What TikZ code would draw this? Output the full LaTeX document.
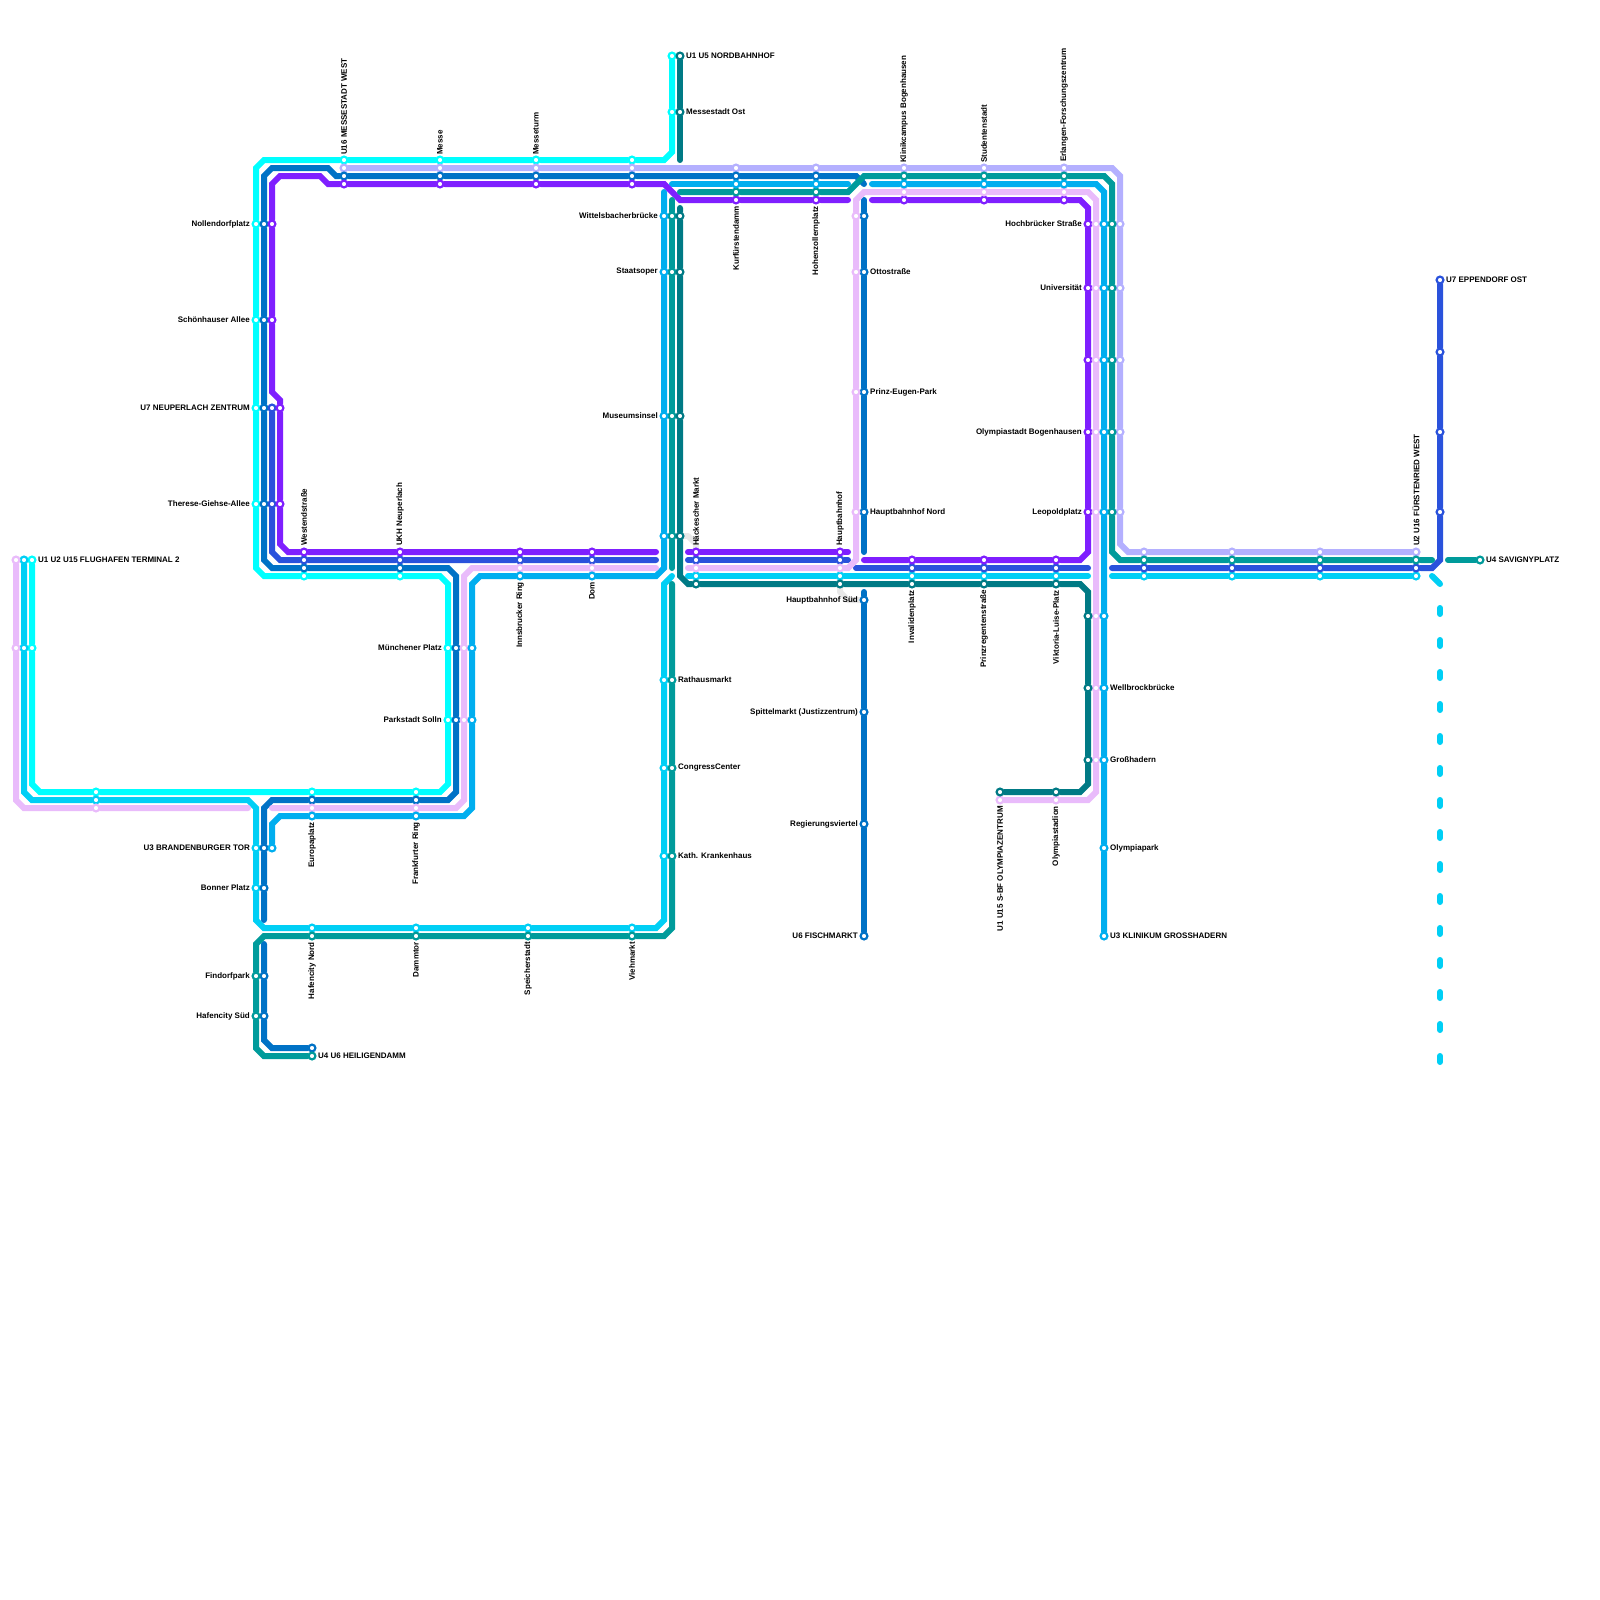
\documentclass[tikz,border=0pt]{standalone}
\usepackage{fontspec}
\setmainfont{Liberation Sans}
\usepackage{xcolor}
\usetikzlibrary{backgrounds}
\definecolor{uaqua}{HTML}{00FFFF}
\definecolor{usky}{HTML}{00CFF5}
\definecolor{ulav}{HTML}{B4B0FF}
\definecolor{ublue}{HTML}{0072C6}
\definecolor{uroyal}{HTML}{2A52DC}
\definecolor{uviolet}{HTML}{7F1FFF}
\definecolor{ulilac}{HTML}{E9BBFB}
\definecolor{uteal}{HTML}{009B9B}
\definecolor{udark}{HTML}{007A85}
\definecolor{uazure}{HTML}{00AEEF}
\tikzset{
  stop/.style={circle, fill=white, draw=#1, line width=2.2pt, minimum size=6.8pt, inner sep=0pt},
  track/.style={line width=6pt, line cap=round, miter limit=4, draw=#1},
  walk/.style={line width=6pt, line cap=round, line join=round, draw=black!9},
  lbl/.style={font=\fontsize{8}{9}\selectfont\bfseries, inner sep=0pt, text=black},
  lblleft/.style={lbl, anchor=east},
  lblright/.style={lbl, anchor=west},
  lblup/.style={lbl, rotate=90, anchor=west},
  lbldown/.style={lbl, rotate=90, anchor=east},
}
\begin{document}
\begin{tikzpicture}[x=1pt, y=-1pt]
\useasboundingbox (0,0) rectangle (1600,1600);
% aqua
\node[stop=uaqua] (a1) at (32,560) {};
\node[stop=uaqua] (a2) at (32,648) {};
\node[stop=uaqua] (a3) at (96,792) {};
\node[stop=uaqua] (a4) at (312,792) {};
\node[stop=uaqua] (a5) at (416,792) {};
\node[stop=uaqua] (a6) at (448,720) {};
\node[stop=uaqua] (a7) at (448,648) {};
\node[stop=uaqua] (a8) at (400,576) {};
\node[stop=uaqua] (a9) at (304,576) {};
\node[stop=uaqua] (a10) at (256,504) {};
\node[stop=uaqua] (a11) at (256,408) {};
\node[stop=uaqua] (a12) at (256,320) {};
\node[stop=uaqua] (a13) at (256,224) {};
\node[stop=uaqua] (a14) at (344,160) {};
\node[stop=uaqua] (a15) at (440,160) {};
\node[stop=uaqua] (a16) at (536,160) {};
\node[stop=uaqua] (a17) at (632,160) {};
\node[stop=uaqua] (a18) at (672,112) {};
\node[stop=uaqua] (a19) at (672,56) {};
\coordinate (aA) at (32,784); \coordinate (aB) at (40,792); \coordinate (aC) at (440,792); \coordinate (aD) at (448,784);
\coordinate (aE) at (448,584); \coordinate (aF) at (440,576); \coordinate (aG) at (264,576); \coordinate (aH) at (256,568);
\coordinate (aI) at (256,168); \coordinate (aJ) at (264,160); \coordinate (aK) at (664,160); \coordinate (aL) at (672,152);
% sky
\node[stop=usky] (s1) at (24,560) {};
\node[stop=usky] (s2) at (24,648) {};
\node[stop=usky] (s3) at (96,800) {};
\node[stop=usky] (s4) at (256,848) {};
\node[stop=usky] (s5) at (256,888) {};
\node[stop=usky] (s6) at (312,928) {};
\node[stop=usky] (s7) at (416,928) {};
\node[stop=usky] (s8) at (528,928) {};
\node[stop=usky] (s9) at (632,928) {};
\node[stop=usky] (s10) at (664,856) {};
\node[stop=usky] (s11) at (664,768) {};
\node[stop=usky] (s12) at (664,680) {};
\node[stop=usky] (s13) at (696,576) {};
\node[stop=usky] (s14) at (840,576) {};
\node[stop=usky] (s15) at (912,576) {};
\node[stop=usky] (s16) at (984,576) {};
\node[stop=usky] (s17) at (1056,576) {};
\node[stop=usky] (s18) at (1144,576) {};
\node[stop=usky] (s19) at (1232,576) {};
\node[stop=usky] (s20) at (1320,576) {};
\node[stop=usky] (s21) at (1416,576) {};
\coordinate (sA) at (24,792); \coordinate (sB) at (32,800); \coordinate (sC) at (248,800); \coordinate (sD) at (256,808);
\coordinate (sE) at (256,920); \coordinate (sF) at (264,928); \coordinate (sG) at (656,928); \coordinate (sH) at (664,920);
\coordinate (sI) at (664,584); \coordinate (sJ) at (672,576); \coordinate (sK) at (688,576); \coordinate (sL) at (1088,576);
\coordinate (sM) at (1112,576); \coordinate (sN) at (1432,576); \coordinate (sO) at (1440,584);
\coordinate (sP) at (1440,608); \coordinate (sQ) at (1440,1062);
% lavender
\node[stop=ulav] (v1) at (344,168) {};
\node[stop=ulav] (v2) at (440,168) {};
\node[stop=ulav] (v3) at (536,168) {};
\node[stop=ulav] (v4) at (632,168) {};
\node[stop=ulav] (v5) at (736,168) {};
\node[stop=ulav] (v6) at (816,168) {};
\node[stop=ulav] (v7) at (904,168) {};
\node[stop=ulav] (v8) at (984,168) {};
\node[stop=ulav] (v9) at (1064,168) {};
\node[stop=ulav] (v10) at (1120,224) {};
\node[stop=ulav] (v11) at (1120,288) {};
\node[stop=ulav] (v12) at (1120,360) {};
\node[stop=ulav] (v13) at (1120,432) {};
\node[stop=ulav] (v14) at (1120,512) {};
\node[stop=ulav] (v15) at (1144,552) {};
\node[stop=ulav] (v16) at (1232,552) {};
\node[stop=ulav] (v17) at (1320,552) {};
\node[stop=ulav] (v18) at (1416,552) {};
\coordinate (vA) at (1112,168); \coordinate (vB) at (1120,176); \coordinate (vC) at (1120,544); \coordinate (vD) at (1128,552);
% blue
\node[stop=ublue] (b1) at (264,888) {};
\node[stop=ublue] (b2) at (264,848) {};
\node[stop=ublue] (b3) at (312,800) {};
\node[stop=ublue] (b4) at (416,800) {};
\node[stop=ublue] (b5) at (456,720) {};
\node[stop=ublue] (b6) at (456,648) {};
\node[stop=ublue] (b7) at (400,568) {};
\node[stop=ublue] (b8) at (304,568) {};
\node[stop=ublue] (b9) at (264,504) {};
\node[stop=ublue] (b10) at (264,408) {};
\node[stop=ublue] (b11) at (264,320) {};
\node[stop=ublue] (b12) at (264,224) {};
\node[stop=ublue] (b13) at (344,176) {};
\node[stop=ublue] (b14) at (440,176) {};
\node[stop=ublue] (b15) at (536,176) {};
\node[stop=ublue] (b16) at (632,176) {};
\node[stop=ublue] (b17) at (736,176) {};
\node[stop=ublue] (b18) at (816,176) {};
\node[stop=ublue] (b19) at (864,216) {};
\node[stop=ublue] (b20) at (864,272) {};
\node[stop=ublue] (b21) at (864,392) {};
\node[stop=ublue] (b22) at (864,512) {};
\node[stop=ublue] (b23) at (864,600) {};
\node[stop=ublue] (b24) at (864,712) {};
\node[stop=ublue] (b25) at (864,824) {};
\node[stop=ublue] (b26) at (864,936) {};
\node[stop=ublue] (b27) at (264,976) {};
\node[stop=ublue] (b28) at (264,1016) {};
\node[stop=ublue] (b29) at (312,1048) {};
\coordinate (bE) at (264,920); \coordinate (bF) at (264,808); \coordinate (bG) at (272,800); \coordinate (bH) at (448,800);
\coordinate (bI) at (456,792); \coordinate (bJ) at (456,576); \coordinate (bK) at (448,568); \coordinate (bL) at (272,568);
\coordinate (bM) at (264,560); \coordinate (bN) at (264,176); \coordinate (bO) at (272,168); \coordinate (bP) at (328,168);
\coordinate (bQ) at (336,176); \coordinate (bR) at (856,176); \coordinate (bS) at (864,184); \coordinate (bT) at (864,200);
\coordinate (bU) at (864,552); \coordinate (bV) at (864,592); \coordinate (bW) at (264,944); \coordinate (bX) at (264,1040);
\coordinate (bY) at (272,1048);
% royal
\node[stop=uroyal] (r1) at (272,408) {};
\node[stop=uroyal] (r2) at (272,504) {};
\node[stop=uroyal] (r3) at (304,560) {};
\node[stop=uroyal] (r4) at (400,560) {};
\node[stop=uroyal] (r5) at (520,560) {};
\node[stop=uroyal] (r6) at (592,560) {};
\node[stop=uroyal] (r7) at (696,560) {};
\node[stop=uroyal] (r8) at (840,560) {};
\node[stop=uroyal] (r9) at (912,568) {};
\node[stop=uroyal] (r10) at (984,568) {};
\node[stop=uroyal] (r11) at (1056,568) {};
\node[stop=uroyal] (r12) at (1144,568) {};
\node[stop=uroyal] (r13) at (1232,568) {};
\node[stop=uroyal] (r14) at (1320,568) {};
\node[stop=uroyal] (r15) at (1416,568) {};
\node[stop=uroyal] (r16) at (1440,512) {};
\node[stop=uroyal] (r17) at (1440,432) {};
\node[stop=uroyal] (r18) at (1440,352) {};
\node[stop=uroyal] (r19) at (1440,280) {};
\coordinate (rA) at (272,552); \coordinate (rB) at (280,560); \coordinate (rC) at (656,560); \coordinate (rD) at (688,560);
\coordinate (rE) at (848,560); \coordinate (rF) at (856,568); \coordinate (rG) at (1088,568); \coordinate (rH) at (1112,568);
\coordinate (rI) at (1432,568); \coordinate (rJ) at (1440,560);
% violet
\node[stop=uviolet] (p1) at (592,552) {};
\node[stop=uviolet] (p2) at (520,552) {};
\node[stop=uviolet] (p3) at (400,552) {};
\node[stop=uviolet] (p4) at (304,552) {};
\node[stop=uviolet] (p5) at (280,504) {};
\node[stop=uviolet] (p6) at (280,408) {};
\node[stop=uviolet] (p7) at (272,320) {};
\node[stop=uviolet] (p8) at (272,224) {};
\node[stop=uviolet] (p9) at (344,184) {};
\node[stop=uviolet] (p10) at (440,184) {};
\node[stop=uviolet] (p11) at (536,184) {};
\node[stop=uviolet] (p12) at (632,184) {};
\node[stop=uviolet] (p13) at (736,200) {};
\node[stop=uviolet] (p14) at (816,200) {};
\node[stop=uviolet] (p15) at (696,552) {};
\node[stop=uviolet] (p16) at (840,552) {};
\node[stop=uviolet] (p17) at (904,200) {};
\node[stop=uviolet] (p18) at (984,200) {};
\node[stop=uviolet] (p19) at (1064,200) {};
\node[stop=uviolet] (p20) at (1088,224) {};
\node[stop=uviolet] (p21) at (1088,288) {};
\node[stop=uviolet] (p22) at (1088,360) {};
\node[stop=uviolet] (p23) at (1088,432) {};
\node[stop=uviolet] (p24) at (1088,512) {};
\node[stop=uviolet] (p25) at (1056,560) {};
\node[stop=uviolet] (p26) at (984,560) {};
\node[stop=uviolet] (p27) at (912,560) {};
\coordinate (pB) at (656,552); \coordinate (pC) at (288,552); \coordinate (pD) at (280,544); \coordinate (pE) at (280,400);
\coordinate (pF) at (272,392); \coordinate (pG) at (272,184); \coordinate (pH) at (280,176); \coordinate (pI) at (320,176);
\coordinate (pJ) at (328,184); \coordinate (pK) at (664,184); \coordinate (pL) at (680,200); \coordinate (pM) at (848,200);
\coordinate (pN) at (688,552); \coordinate (pO) at (848,552); \coordinate (pP) at (872,200); \coordinate (pQ) at (1080,200);
\coordinate (pR) at (1088,208); \coordinate (pT) at (1088,552); \coordinate (pU) at (1080,560); \coordinate (pV) at (864,560);
% lilac
\node[stop=ulilac] (l1) at (16,560) {};
\node[stop=ulilac] (l2) at (16,648) {};
\node[stop=ulilac] (l3) at (96,808) {};
\node[stop=ulilac] (l4) at (312,808) {};
\node[stop=ulilac] (l5) at (416,808) {};
\node[stop=ulilac] (l6) at (464,720) {};
\node[stop=ulilac] (l7) at (464,648) {};
\node[stop=ulilac] (l8) at (520,568) {};
\node[stop=ulilac] (l9) at (592,568) {};
\node[stop=ulilac] (l10) at (696,568) {};
\node[stop=ulilac] (l11) at (840,568) {};
\node[stop=ulilac] (l12) at (856,512) {};
\node[stop=ulilac] (l13) at (856,392) {};
\node[stop=ulilac] (l14) at (856,272) {};
\node[stop=ulilac] (l15) at (856,216) {};
\node[stop=ulilac] (l16) at (904,192) {};
\node[stop=ulilac] (l17) at (984,192) {};
\node[stop=ulilac] (l18) at (1064,192) {};
\node[stop=ulilac] (l19) at (1096,224) {};
\node[stop=ulilac] (l20) at (1096,288) {};
\node[stop=ulilac] (l21) at (1096,360) {};
\node[stop=ulilac] (l22) at (1096,432) {};
\node[stop=ulilac] (l23) at (1096,512) {};
\node[stop=ulilac] (l24) at (1096,616) {};
\node[stop=ulilac] (l25) at (1096,688) {};
\node[stop=ulilac] (l26) at (1096,760) {};
\node[stop=ulilac] (l27) at (1056,800) {};
\node[stop=ulilac] (l28) at (1000,800) {};
\coordinate (lA) at (16,800); \coordinate (lB) at (24,808); \coordinate (lC) at (248,808); \coordinate (lD) at (272,808);
\coordinate (lE) at (456,808); \coordinate (lF) at (464,800); \coordinate (lG) at (464,576); \coordinate (lH) at (472,568);
\coordinate (lI) at (656,568); \coordinate (lJ) at (688,568); \coordinate (lK) at (848,568); \coordinate (lL) at (856,560);
\coordinate (lM) at (856,200); \coordinate (lN) at (864,192); \coordinate (lO) at (1088,192); \coordinate (lP) at (1096,200);
\coordinate (lQ) at (1096,792); \coordinate (lR) at (1088,800);
% teal
\node[stop=uteal] (t1) at (672,680) {};
\node[stop=uteal] (t2) at (672,768) {};
\node[stop=uteal] (t3) at (672,856) {};
\node[stop=uteal] (t4) at (632,936) {};
\node[stop=uteal] (t5) at (528,936) {};
\node[stop=uteal] (t6) at (416,936) {};
\node[stop=uteal] (t7) at (312,936) {};
\node[stop=uteal] (t8) at (256,976) {};
\node[stop=uteal] (t9) at (256,1016) {};
\node[stop=uteal] (t10) at (312,1056) {};
\node[stop=uteal] (t11) at (672,216) {};
\node[stop=uteal] (t12) at (672,272) {};
\node[stop=uteal] (t13) at (672,416) {};
\node[stop=uteal] (t14) at (672,536) {};
\node[stop=uteal] (t15) at (736,192) {};
\node[stop=uteal] (t16) at (816,192) {};
\node[stop=uteal] (t17) at (904,176) {};
\node[stop=uteal] (t18) at (984,176) {};
\node[stop=uteal] (t19) at (1064,176) {};
\node[stop=uteal] (t20) at (1112,224) {};
\node[stop=uteal] (t21) at (1112,288) {};
\node[stop=uteal] (t22) at (1112,360) {};
\node[stop=uteal] (t23) at (1112,432) {};
\node[stop=uteal] (t24) at (1112,512) {};
\node[stop=uteal] (t25) at (1144,560) {};
\node[stop=uteal] (t26) at (1232,560) {};
\node[stop=uteal] (t27) at (1320,560) {};
\node[stop=uteal] (t28) at (1416,560) {};
\node[stop=uteal] (t29) at (1480,560) {};
\coordinate (tA) at (672,584); \coordinate (tB) at (672,928); \coordinate (tC) at (664,936); \coordinate (tD) at (264,936);
\coordinate (tE) at (256,944); \coordinate (tF) at (256,1048); \coordinate (tG) at (264,1056); \coordinate (tH) at (672,200);
\coordinate (tI) at (672,568); \coordinate (tJ) at (680,192); \coordinate (tK) at (848,192); \coordinate (tL) at (864,176);
\coordinate (tM) at (1104,176); \coordinate (tN) at (1112,184); \coordinate (tO) at (1112,552); \coordinate (tP) at (1120,560);
\coordinate (tQ) at (1432,560); \coordinate (tR) at (1448,560);
% dark teal
\node[stop=udark] (d1) at (680,56) {};
\node[stop=udark] (d2) at (680,112) {};
\node[stop=udark] (d3) at (680,216) {};
\node[stop=udark] (d4) at (680,272) {};
\node[stop=udark] (d5) at (680,416) {};
\node[stop=udark] (d6) at (680,536) {};
\node[stop=udark] (d7) at (696,584) {};
\node[stop=udark] (d8) at (840,584) {};
\node[stop=udark] (d9) at (912,584) {};
\node[stop=udark] (d10) at (984,584) {};
\node[stop=udark] (d11) at (1056,584) {};
\node[stop=udark] (d12) at (1088,616) {};
\node[stop=udark] (d13) at (1088,688) {};
\node[stop=udark] (d14) at (1088,760) {};
\node[stop=udark] (d15) at (1056,792) {};
\node[stop=udark] (d16) at (1000,792) {};
\coordinate (dA) at (680,160); \coordinate (dB) at (680,208); \coordinate (dC) at (680,576); \coordinate (dD) at (688,584);
\coordinate (dE) at (1080,584); \coordinate (dF) at (1088,592); \coordinate (dG) at (1088,784); \coordinate (dH) at (1080,792);
% azure
\node[stop=uazure] (z1) at (272,848) {};
\node[stop=uazure] (z2) at (312,816) {};
\node[stop=uazure] (z3) at (416,816) {};
\node[stop=uazure] (z4) at (472,720) {};
\node[stop=uazure] (z5) at (472,648) {};
\node[stop=uazure] (z6) at (520,576) {};
\node[stop=uazure] (z7) at (592,576) {};
\node[stop=uazure] (z8) at (664,536) {};
\node[stop=uazure] (z9) at (664,416) {};
\node[stop=uazure] (z10) at (664,272) {};
\node[stop=uazure] (z11) at (664,216) {};
\node[stop=uazure] (z12) at (736,184) {};
\node[stop=uazure] (z13) at (816,184) {};
\node[stop=uazure] (z14) at (904,184) {};
\node[stop=uazure] (z15) at (984,184) {};
\node[stop=uazure] (z16) at (1064,184) {};
\node[stop=uazure] (z17) at (1104,224) {};
\node[stop=uazure] (z18) at (1104,288) {};
\node[stop=uazure] (z19) at (1104,360) {};
\node[stop=uazure] (z20) at (1104,432) {};
\node[stop=uazure] (z21) at (1104,512) {};
\node[stop=uazure] (z22) at (1104,616) {};
\node[stop=uazure] (z23) at (1104,688) {};
\node[stop=uazure] (z24) at (1104,760) {};
\node[stop=uazure] (z25) at (1104,848) {};
\node[stop=uazure] (z26) at (1104,936) {};
\coordinate (zA) at (272,824); \coordinate (zB) at (280,816); \coordinate (zC) at (464,816); \coordinate (zD) at (472,808);
\coordinate (zE) at (472,584); \coordinate (zF) at (480,576); \coordinate (zG) at (656,576); \coordinate (zH) at (664,568);
\coordinate (zI) at (664,192); \coordinate (zJ) at (672,184); \coordinate (zK) at (848,184); \coordinate (zL) at (872,184);
\coordinate (zM) at (1096,184); \coordinate (zN) at (1104,192);
% walks between stations
\coordinate (gA) at (688,536); \coordinate (gB) at (696,544); \coordinate (gC) at (840,592); \coordinate (gD) at (848,600);
\begin{pgfonlayer}{background}
\fill[white] (0,0) rectangle (1600,1600);
\draw[walk] (d6) -- (gA) -- (gB) -- (p15);
\draw[walk] (d8) -- (gC) -- (gD) -- (b23);
\draw[track=uaqua] (a1) -- (a2) -- (aA) -- (aB) -- (a3) -- (a4) -- (a5) -- (aC) -- (aD) -- (a6) -- (a7) -- (aE) -- (aF) -- (a8) -- (a9) -- (aG) -- (aH) -- (a10) -- (a11) -- (a12) -- (a13) -- (aI) -- (aJ) -- (a14) -- (a15) -- (a16) -- (a17) -- (aK) -- (aL) -- (a18) -- (a19);
\draw[track=usky] (s1) -- (s2) -- (sA) -- (sB) -- (s3) -- (sC) -- (sD) -- (s4) -- (s5) -- (sE) -- (sF) -- (s6) -- (s7) -- (s8) -- (s9) -- (sG) -- (sH) -- (s10) -- (s11) -- (s12) -- (sI) -- (sJ);
\draw[track=usky] (sK) -- (s13) -- (s14) -- (s15) -- (s16) -- (s17) -- (sL);
\draw[track=usky] (sM) -- (s18) -- (s19) -- (s20) -- (s21);
\draw[track=usky] (sN) -- (sO);
\draw[track=usky, dash pattern=on 6pt off 26pt] (sP) -- (sQ);
\draw[track=ulav] (v1) -- (v2) -- (v3) -- (v4) -- (v5) -- (v6) -- (v7) -- (v8) -- (v9) -- (vA) -- (vB) -- (v10) -- (v11) -- (v12) -- (v13) -- (v14) -- (vC) -- (vD) -- (v15) -- (v16) -- (v17) -- (v18);
\draw[track=ublue] (bE) -- (b1) -- (b2) -- (bF) -- (bG) -- (b3) -- (b4) -- (bH) -- (bI) -- (b5) -- (b6) -- (bJ) -- (bK) -- (b7) -- (b8) -- (bL) -- (bM) -- (b9) -- (b10) -- (b11) -- (b12) -- (bN) -- (bO) -- (bP) -- (bQ) -- (b13) -- (b14) -- (b15) -- (b16) -- (b17) -- (b18) -- (bR) -- (bS);
\draw[track=ublue] (bT) -- (b19) -- (b20) -- (b21) -- (b22) -- (bU);
\draw[track=ublue] (bV) -- (b23) -- (b24) -- (b25) -- (b26);
\draw[track=ublue] (bW) -- (b27) -- (b28) -- (bX) -- (bY) -- (b29);
\draw[track=uroyal] (r1) -- (r2) -- (rA) -- (rB) -- (r3) -- (r4) -- (r5) -- (r6) -- (rC);
\draw[track=uroyal] (rD) -- (r7) -- (r8) -- (rE);
\draw[track=uroyal] (rF) -- (r9) -- (r10) -- (r11) -- (rG);
\draw[track=uroyal] (rH) -- (r12) -- (r13) -- (r14) -- (r15) -- (rI) -- (rJ) -- (r16) -- (r17) -- (r18) -- (r19);
\draw[track=uazure] (z1) -- (zA) -- (zB) -- (z2) -- (z3) -- (zC) -- (zD) -- (z4) -- (z5) -- (zE) -- (zF) -- (z6) -- (z7) -- (zG) -- (zH) -- (z8) -- (z9) -- (z10) -- (z11) -- (zI);
\draw[track=uazure] (zJ) -- (z12) -- (z13) -- (zK);
\draw[track=uazure] (zL) -- (z14) -- (z15) -- (z16) -- (zM) -- (zN) -- (z17) -- (z18) -- (z19) -- (z20) -- (z21) -- (z22) -- (z23) -- (z24) -- (z25) -- (z26);
\draw[track=uviolet] (pB) -- (p1) -- (p2) -- (p3) -- (p4) -- (pC) -- (pD) -- (p5) -- (p6) -- (pE) -- (pF) -- (p7) -- (p8) -- (pG) -- (pH) -- (pI) -- (pJ) -- (p9) -- (p10) -- (p11) -- (p12) -- (pK) -- (pL) -- (p13) -- (p14) -- (pM);
\draw[track=uviolet] (pN) -- (p15) -- (p16) -- (pO);
\draw[track=uviolet] (pP) -- (p17) -- (p18) -- (p19) -- (pQ) -- (pR) -- (p20) -- (p21) -- (p22) -- (p23) -- (p24) -- (pT) -- (pU) -- (p25) -- (p26) -- (p27) -- (pV);
\draw[track=ulilac] (l1) -- (l2) -- (lA) -- (lB) -- (l3) -- (lC);
\draw[track=ulilac] (lD) -- (l4) -- (l5) -- (lE) -- (lF) -- (l6) -- (l7) -- (lG) -- (lH) -- (l8) -- (l9) -- (lI);
\draw[track=ulilac] (lJ) -- (l10) -- (l11) -- (lK) -- (lL) -- (l12) -- (l13) -- (l14) -- (l15) -- (lM) -- (lN) -- (l16) -- (l17) -- (l18) -- (lO) -- (lP) -- (l19) -- (l20) -- (l21) -- (l22) -- (l23) -- (l24) -- (l25) -- (l26) -- (lQ) -- (lR) -- (l27) -- (l28);
\draw[track=uteal] (tA) -- (t1) -- (t2) -- (t3) -- (tB) -- (tC) -- (t4) -- (t5) -- (t6) -- (t7) -- (tD) -- (tE) -- (t8) -- (t9) -- (tF) -- (tG) -- (t10);
\draw[track=uteal] (tH) -- (t11) -- (t12) -- (t13) -- (t14) -- (tI);
\draw[track=uteal] (tJ) -- (t15) -- (t16) -- (tK) -- (tL) -- (t17) -- (t18) -- (t19) -- (tM) -- (tN) -- (t20) -- (t21) -- (t22) -- (t23) -- (t24) -- (tO) -- (tP) -- (t25) -- (t26) -- (t27) -- (t28) -- (tQ);
\draw[track=uteal] (tR) -- (t29);
\draw[track=udark] (d1) -- (d2) -- (dA);
\draw[track=udark] (dB) -- (d3) -- (d4) -- (d5) -- (d6) -- (dC) -- (dD) -- (d7) -- (d8) -- (d9) -- (d10) -- (d11) -- (dE) -- (dF) -- (d12) -- (d13) -- (d14) -- (dG) -- (dH) -- (d15) -- (d16);
\end{pgfonlayer}
% labels
\node[lblleft] (tNollendorf) at (250,224) {Nollendorfplatz};
\node[lblleft] (tSchoenhaus) at (250,320) {Schönhauser Allee};
\node[lblleft] (tNeuperlachZ) at (250,408) {U7 NEUPERLACH ZENTRUM};
\node[lblleft] (tTherese) at (250,504) {Therese-Giehse-Allee};
\node[lblleft] (tWittels) at (658,216) {Wittelsbacherbrücke};
\node[lblleft] (tStaatsoper) at (658,272) {Staatsoper};
\node[lblleft] (tMuseum) at (658,416) {Museumsinsel};
\node[lblleft] (tMuenchen) at (442,648) {Münchener Platz};
\node[lblleft] (tParkstadt) at (442,720) {Parkstadt Solln};
\node[lblleft] (tHbfSued) at (858,600) {Hauptbahnhof Süd};
\node[lblleft] (tSpittel) at (858,712) {Spittelmarkt (Justizzentrum)};
\node[lblleft] (tRegierung) at (858,824) {Regierungsviertel};
\node[lblleft] (tFischmarkt) at (858,936) {U6 FISCHMARKT};
\node[lblleft] (tHochbruck) at (1082,224) {Hochbrücker Straße};
\node[lblleft] (tUni) at (1082,288) {Universität};
\node[lblleft] (tOlyBogen) at (1082,432) {Olympiastadt Bogenhausen};
\node[lblleft] (tLeopold) at (1082,512) {Leopoldplatz};
\node[lblleft] (tBrandenb) at (250,848) {U3 BRANDENBURGER TOR};
\node[lblleft] (tBonner) at (250,888) {Bonner Platz};
\node[lblleft] (tFindorf) at (250,976) {Findorfpark};
\node[lblleft] (tHafenSued) at (250,1016) {Hafencity Süd};
\node[lblright] (tFlughafen) at (38,560) {U1 U2 U15 FLUGHAFEN TERMINAL 2};
\node[lblright] (tNordbf) at (686,56) {U1 U5 NORDBAHNHOF};
\node[lblright] (tMesseOst) at (686,112) {Messestadt Ost};
\node[lblright] (tRathaus) at (678,680) {Rathausmarkt};
\node[lblright] (tCongress) at (678,768) {CongressCenter};
\node[lblright] (tKath) at (678,856) {Kath. Krankenhaus};
\node[lblright] (tOtto) at (870,272) {Ottostraße};
\node[lblright] (tPrinz) at (870,392) {Prinz-Eugen-Park};
\node[lblright] (tHbfNord) at (870,512) {Hauptbahnhof Nord};
\node[lblright] (tWellbrock) at (1110,688) {Wellbrockbrücke};
\node[lblright] (tGrosshad) at (1110,760) {Großhadern};
\node[lblright] (tOlyPark) at (1110,848) {Olympiapark};
\node[lblright] (tKlinikum) at (1110,936) {U3 KLINIKUM GROSSHADERN};
\node[lblright] (tEppendorf) at (1446,280) {U7 EPPENDORF OST};
\node[lblright] (tSavigny) at (1486,560) {U4 SAVIGNYPLATZ};
\node[lblright] (tHeilig) at (318,1056) {U4 U6 HEILIGENDAMM};
\node[lblup] (tMessestadt) at (344,155) {U16 MESSESTADT WEST};
\node[lblup] (tMesse) at (440,155) {Messe};
\node[lblup] (tMesseturm) at (536,155) {Messeturm};
\node[lblup] (tKlinikcamp) at (904,163) {Klinikcampus Bogenhausen};
\node[lblup] (tStudenten) at (984,163) {Studentenstadt};
\node[lblup] (tErlangen) at (1064,162) {Erlangen-Forschungszentrum};
\node[lblup] (tWestend) at (304,546) {Westendstraße};
\node[lblup] (tUKH) at (400,546) {UKH Neuperlach};
\node[lblup] (tHackesch) at (696,546) {Häckescher Markt};
\node[lblup] (tHbf) at (840,546) {Hauptbahnhof};
\node[lblup] (tFuersten) at (1416,546) {U2 U16 FÜRSTENRIED WEST};
\node[lbldown] (tKurf) at (736,206) {Kurfürstendamm};
\node[lbldown] (tHohenz) at (816,206) {Hohenzollernplatz};
\node[lbldown] (tInnsbr) at (520,582) {Innsbrucker Ring};
\node[lbldown] (tDom) at (592,582) {Dom};
\node[lbldown] (tInvalid) at (912,590) {Invalidenplatz};
\node[lbldown] (tPrinzreg) at (984,590) {Prinzregentenstraße};
\node[lbldown] (tViktoria) at (1056,590) {Viktoria-Luise-Platz};
\node[lbldown] (tEuropa) at (312,822) {Europaplatz};
\node[lbldown] (tFrankf) at (416,822) {Frankfurter Ring};
\node[lbldown] (tHafenNord) at (312,942) {Hafencity Nord};
\node[lbldown] (tDammtor) at (416,942) {Dammtor};
\node[lbldown] (tSpeicher) at (528,942) {Speicherstadt};
\node[lbldown] (tVieh) at (632,942) {Viehmarkt};
\node[lbldown] (tOlyZentrum) at (1000,806) {U1 U15 S-BF OLYMPIAZENTRUM};
\node[lbldown] (tOlyStadion) at (1056,806) {Olympiastadion};
\end{tikzpicture}
\end{document}
